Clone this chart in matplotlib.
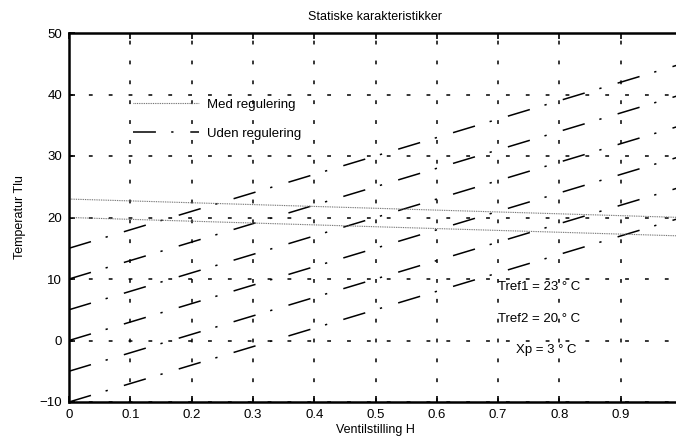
import matplotlib
matplotlib.use("Agg")
import matplotlib.pyplot as plt
import numpy as np

# ventilstilling H og temperaturer
h = np.array([0.0, 1.0])
uden_start = [-10, -5, 0, 5, 10, 15]   # Tlu ved H = 0 uden regulering
uden_slope = 30                         # stigning pr. enhed H
tref = [23, 20]                         # referencetemperaturer
xp = 3                                  # proportionalbaand

plt.rcParams['font.family'] = ['Liberation Sans', 'DejaVu Sans']
plt.rcParams['font.size'] = 9

fig = plt.figure(figsize=(6.76, 4.38), dpi=100)
ax = fig.add_axes([69 / 676, 36 / 438, 613 / 676, 369 / 438])

# uden regulering: dash-dot linjer
for i, t0 in enumerate(uden_start):
    ax.plot(h, t0 + uden_slope * h, color='black', lw=1.1,
            dashes=(15, 10, 1.5, 11),
            label='Uden regulering' if i == 0 else None)

# med regulering: fint prikkede linjer
for i, tr in enumerate(tref):
    ax.plot(h, tr - xp * h, color='#666666', lw=0.8, dashes=(0.8, 0.8),
            label='Med regulering' if i == 0 else None)

ax.set_xlim(0, 1)
ax.set_ylim(-10, 50)
ax.set_xticks(np.arange(0, 1.0, 0.1))
ax.set_xticklabels(['0', '0.1', '0.2', '0.3', '0.4', '0.5', '0.6', '0.7', '0.8', '0.9'])
ax.set_yticks(np.arange(-10, 51, 10))
ax.tick_params(direction='in', top=True, right=True, length=4, width=1.2,
               labelsize=9.5, pad=5)
ax.grid(True, color='black', lw=1.1, dashes=(2.5, 10.5))

for s in ax.spines.values():
    s.set_linewidth(1.8)

ax.set_title('Statiske karakteristikker', fontsize=9, pad=9)
ax.set_xlabel('Ventilstilling H', fontsize=9, labelpad=2)
ax.set_ylabel('Temperatur Tlu', fontsize=9, labelpad=10)

handles, labels = ax.get_legend_handles_labels()
order = [labels.index('Med regulering'), labels.index('Uden regulering')]
ax.legend([handles[k] for k in order], [labels[k] for k in order],
          loc='upper left', bbox_to_anchor=(0.085, 0.855), frameon=False,
          handlelength=5.0, handletextpad=0.6, labelspacing=1.3, fontsize=9.5)

ax.text(0.70, 8.7, 'Tref1 = 23 ° C', fontsize=9.5, va='center')
ax.text(0.70, 3.5, 'Tref2 = 20 ° C', fontsize=9.5, va='center')
ax.text(0.73, -1.6, 'Xp = 3 ° C', fontsize=9.5, va='center')

fig.savefig('out.png', dpi=100)
